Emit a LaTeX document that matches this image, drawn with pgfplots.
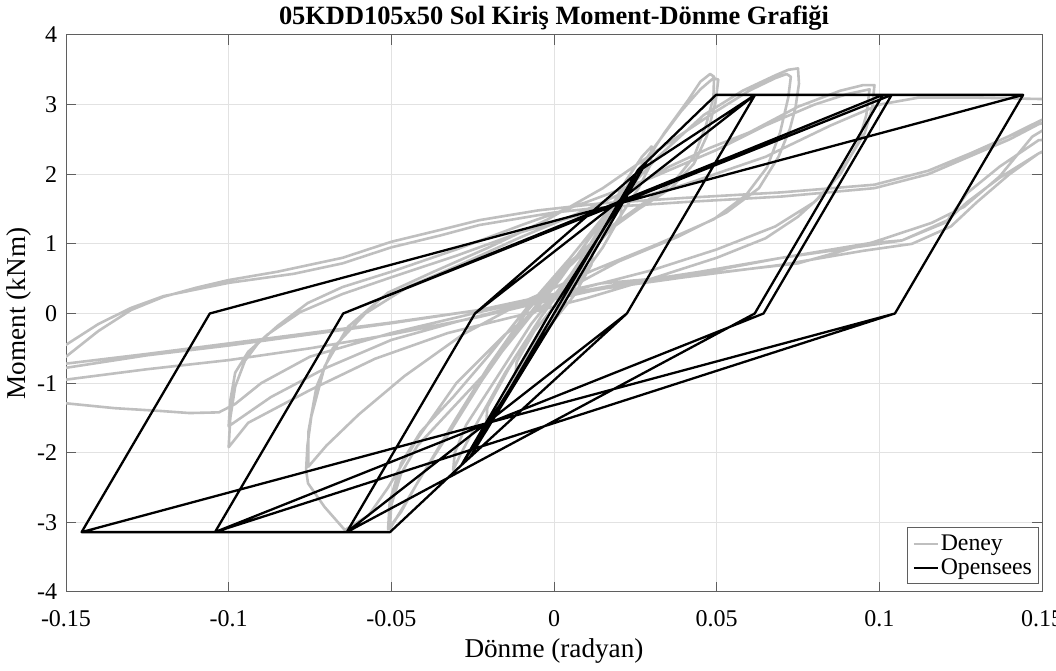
\documentclass[border=0pt]{standalone}
\usepackage{fontspec}
\setmainfont{Liberation Serif}
\usepackage{pgfplots}
\pgfplotsset{compat=1.18}
\definecolor{deney}{RGB}{191,191,191}
\definecolor{gridc}{RGB}{226,226,226}
\definecolor{axc}{RGB}{95,95,95}
\begin{document}
\begin{tikzpicture}
\begin{axis}[
  name=ax,
  scale only axis,
  width=488pt, height=278.5pt,
  xmin=-0.15, xmax=0.15, ymin=-4, ymax=4,
  xtick={-0.15,-0.1,-0.05,0,0.05,0.1,0.15},
  xticklabels={-0.15,-0.1,-0.05,0,0.05,0.1,0.15},
  ytick={-4,-3,-2,-1,0,1,2,3,4},
  yticklabels={-4,-3,-2,-1,0,1,2,3,4},
  scaled ticks=false,
  xtick pos=both, ytick pos=both,
  xticklabel pos=lower, yticklabel pos=left,
  tick align=inside,
  major tick length=4.8pt,
  every tick/.style={color=axc, line width=0.5pt},
  axis line style={color=axc, line width=0.5pt},
  grid=major,
  major grid style={color=gridc, line width=0.5pt},
  tick label style={font=\fontsize{12}{14}\selectfont},
  xticklabel style={anchor=base, yshift=-17.3pt},
  yticklabel style={anchor=east, inner sep=0pt, xshift=-4.2pt},
  title={05KDD105x50 Sol Kiriş Moment-Dönme Grafiği},
  title style={at={(axis description cs:0.5,1)}, anchor=base, yshift=-1pt, font=\fontsize{13.2}{15}\selectfont\bfseries},
  xlabel={Dönme (radyan)},
  xlabel style={at={(axis description cs:0.5,-0.1185)}, anchor=base, font=\fontsize{13.6}{15}\selectfont},
  ylabel={Moment (kNm)},
  ylabel style={at={(axis description cs:-0.0487,0.5)}, anchor=center, font=\fontsize{13.6}{15}\selectfont},
  legend style={at={(axis description cs:0.997,0.014)}, anchor=south east, draw=axc, line width=0.5pt,
    font=\fontsize{11.9}{13}\selectfont, inner sep=2.5pt, row sep=1pt, nodes={inner sep=0.8pt}},
  legend cell align=left,
  legend image code/.code={\draw[#1] (0pt,0pt) -- (12pt,0pt);},
]
\addplot[deney, line width=1.3pt, line join=round] coordinates {
(0,0) (0.006,0.45) (0.012,0.95) (0.0115,0.7) (0.006,0.25) (0,-0.1) (-0.006,-0.5) (-0.012,-0.95) (-0.0115,-0.7) (-0.006,-0.25) (0,0.1)
(0.008,0.65) (0.015,1.25) (0.021,1.75) (0.0205,1.4) (0.015,0.95) (0.005,0.3) (-0.005,-0.35) (-0.014,-1.1) (-0.021,-1.7) (-0.0205,-1.35) (-0.014,-0.8) (-0.004,-0.05) (0.006,0.6)
(0.015,1.3) (0.022,1.9) (0.027,2.25) (0.03,2.4) (0.0298,2.15) (0.026,1.8) (0.019,1.3) (0.008,0.7) (-0.004,-0.05) (-0.015,-0.85) (-0.024,-1.6) (-0.029,-2.05) (-0.031,-2.25) (-0.0305,-2.0) (-0.027,-1.6) (-0.018,-0.95) (-0.007,-0.15) (0.005,0.55)
(0.015,1.25) (0.025,1.95) (0.034,2.6) (0.041,3.05) (0.045,3.33) (0.048,3.44) (0.0492,3.4) (0.049,3.1) (0.0467,2.7) (0.043,2.25) (0.037,1.9) (0.028,1.6) (0.016,1.2) (0.004,0.7) (-0.008,0.05) (-0.02,-0.75) (-0.03,-1.5) (-0.039,-2.2) (-0.046,-2.75) (-0.0505,-3.1) (-0.05,-2.75) (-0.047,-2.3) (-0.042,-1.9) (-0.033,-1.45) (-0.022,-0.9) (-0.01,-0.2) (0.002,0.5) (0.012,1.15)
(0.022,1.8) (0.031,2.4) (0.039,2.9) (0.045,3.22) (0.049,3.38) (0.0505,3.36) (0.0497,3.05) (0.047,2.55) (0.043,2.15) (0.036,1.8) (0.026,1.5) (0.014,1.1) (0.002,0.55) (-0.01,-0.15) (-0.022,-0.95) (-0.032,-1.7) (-0.041,-2.35) (-0.047,-2.85) (-0.051,-3.1) (-0.0505,-2.7) (-0.047,-2.15) (-0.041,-1.7) (-0.031,-1.2) (-0.02,-0.6) (-0.008,0.1) (0.005,0.8)
(0.018,1.55) (0.032,2.25) (0.046,2.85) (0.058,3.2) (0.068,3.42) (0.072,3.5) (0.075,3.52) (0.0753,3.3) (0.0742,2.95) (0.0725,2.65) (0.069,2.25) (0.063,1.8) (0.053,1.45) (0.038,1.1) (0.02,0.75) (0.002,0.3) (-0.015,-0.3) (-0.03,-1.0) (-0.042,-1.8) (-0.051,-2.5) (-0.057,-2.9) (-0.0643,-3.11) (-0.0705,-2.78) (-0.0756,-2.44) (-0.0762,-2.25) (-0.0758,-1.9) (-0.0746,-1.48) (-0.0705,-0.76) (-0.0633,-0.19) (-0.051,0.3) (-0.037,0.6) (-0.02,0.95) (-0.002,1.35)
(0.015,1.8) (0.032,2.35) (0.048,2.85) (0.06,3.2) (0.068,3.38) (0.0715,3.44) (0.0728,3.4) (0.072,3.1) (0.0695,2.6) (0.0655,2.1) (0.059,1.7) (0.049,1.35) (0.032,1.0) (0.012,0.62) (-0.008,0.2) (-0.028,-0.3) (-0.046,-0.9) (-0.06,-1.45) (-0.07,-1.9) (-0.0755,-2.2) (-0.0755,-1.7) (-0.073,-1.05) (-0.068,-0.5) (-0.058,0.0) (-0.045,0.38) (-0.028,0.72) (-0.01,1.1) (0.008,1.45)
(0.022,1.75) (0.035,2.1) (0.048,2.38) (0.06,2.6) (0.075,2.97) (0.088,3.2) (0.095,3.28) (0.0985,3.28) (0.0978,2.95) (0.0955,2.59) (0.0904,2.2) (0.084,1.77) (0.075,1.39) (0.065,1.08) (0.05,0.8) (0.03,0.5) (0.01,0.22) (-0.01,-0.02) (-0.0326,-0.28) (-0.055,-0.65) (-0.075,-1.1) (-0.094,-1.57) (-0.1,-1.92) (-0.0995,-1.5) (-0.098,-1.05) (-0.095,-0.68) (-0.091,-0.43) (-0.085,-0.18) (-0.0757,0.15) (-0.065,0.38) (-0.05,0.6) (-0.03,0.92) (-0.01,1.27) (0.01,1.6)
(0.03,1.95) (0.05,2.35) (0.065,2.7) (0.08,3.0) (0.09,3.15) (0.097,3.22) (0.096,2.85) (0.0935,2.45) (0.088,2.0) (0.08,1.6) (0.068,1.25) (0.05,0.92) (0.03,0.62) (0.01,0.38) (-0.01,0.12) (-0.03,-0.12) (-0.05,-0.38) (-0.07,-0.78) (-0.087,-1.2) (-0.1,-1.62) (-0.0995,-1.25) (-0.098,-0.85) (-0.094,-0.55) (-0.088,-0.3) (-0.078,0.02) (-0.065,0.28) (-0.05,0.52) (-0.03,0.83) (-0.01,1.17) (0.014,1.5)
(0.04,1.85) (0.065,2.25) (0.085,2.7) (0.1,3.0) (0.112,3.1) (0.13,3.1) (0.15,3.08) (0.16,3.05) (0.165,2.9) (0.16,2.55) (0.149,2.3) (0.137,1.95) (0.127,1.6) (0.12,1.3) (0.107,1.05) (0.097,0.98) (0.07,0.8) (0.045,0.6) (0.02,0.42) (0,0.25) (-0.023,0.02) (-0.05,-0.28) (-0.075,-0.62) (-0.09,-1.0) (-0.098,-1.3) (-0.103,-1.42) (-0.112,-1.43) (-0.121,-1.4) (-0.135,-1.36) (-0.15,-1.29) (-0.165,-1.2)
(-0.163,-0.9) (-0.158,-0.75) (-0.15,-0.62) (-0.14,-0.25) (-0.13,0.05) (-0.12,0.24) (-0.11,0.37) (-0.1,0.48) (-0.085,0.6) (-0.065,0.8) (-0.05,1.03) (-0.035,1.2) (-0.023,1.34) (-0.005,1.48) (0.014,1.58) (0.04,1.66) (0.07,1.74) (0.0985,1.85) (0.115,2.05) (0.128,2.3) (0.14,2.55) (0.149,2.76) (0.158,2.95) (0.165,2.95)
(0.162,2.6) (0.155,2.5) (0.149,2.49) (0.137,2.11) (0.127,1.73) (0.121,1.34) (0.107,1.05) (0.097,1.01) (0.07,0.8) (0.045,0.58) (0.02,0.4) (0,0.22) (-0.023,0.05) (-0.05,-0.13) (-0.075,-0.28) (-0.1,-0.43) (-0.125,-0.58) (-0.15,-0.72) (-0.165,-0.82)
(-0.16,-0.6) (-0.15,-0.45) (-0.14,-0.15) (-0.13,0.08) (-0.12,0.25) (-0.1,0.44) (-0.08,0.57) (-0.065,0.72) (-0.05,0.95) (-0.035,1.12) (-0.023,1.27) (0,1.45) (0.014,1.52) (0.04,1.6) (0.07,1.68) (0.0985,1.8) (0.115,2.0) (0.13,2.3) (0.14,2.5) (0.149,2.72) (0.16,2.85) (0.165,2.8)
(0.16,2.5) (0.149,2.3) (0.14,2.0) (0.13,1.6) (0.122,1.25) (0.11,1.0) (0.095,0.9) (0.07,0.7) (0.04,0.52) (0.014,0.35) (-0.005,0.15) (-0.023,-0.05) (-0.05,-0.3) (-0.075,-0.5) (-0.1,-0.67) (-0.125,-0.8) (-0.15,-0.95) (-0.165,-1.05)
(-0.16,-0.95) (-0.15,-0.78) (-0.125,-0.6) (-0.1,-0.46) (-0.075,-0.3) (-0.05,-0.14) (-0.023,0.05) (0,0.28) (0.014,0.43) (0.045,0.56) (0.075,0.72) (0.0985,1.03) (0.116,1.3) (0.126,1.53) (0.137,1.97) (0.147,2.54) (0.158,2.85) (0.165,2.85)
};
\addlegendentry{Deney}
\addplot[black, line width=1.15pt, line join=round] coordinates {
(0,0) (0.0125,1.0) (-0.0125,-1.0) (0.0125,1.0) (-0.0125,-1.0) (0,0)
(0.025,2.0) (-0.025,-2.0) (0.025,2.0) (-0.025,-2.0) (0,0)
(0.0258,2.06) (0.0285,2.18) (0.0013,0) (-0.0258,-2.06) (-0.0285,-2.18) (-0.0013,0)
(0.0285,2.18) (0.0013,0) (-0.0285,-2.18) (-0.0013,0) (0.0285,2.18)
(0.0498,3.14) (0.0618,3.14) (0.0224,0) (-0.0285,-2.18) (-0.0504,-3.14) (-0.0637,-3.14)
(-0.0243,0) (0.0262,2.05) (0.0618,3.14) (0.0224,0) (-0.0637,-3.14)
(-0.0243,0) (0.0618,3.14) (0.1011,3.14) (0.0617,0) (-0.0637,-3.14) (-0.1042,-3.14)
(-0.0648,0) (0.1011,3.14) (0.1038,3.14) (0.0644,0) (-0.1042,-3.14)
(-0.0648,0) (0.1038,3.14) (0.1442,3.14) (0.1048,0) (-0.1042,-3.14) (-0.1452,-3.14)
(-0.1058,0) (0.1442,3.14) (0.1048,0) (-0.1452,-3.14) (-0.1058,0)
};
\addlegendentry{Opensees}
\end{axis}
\pgfresetboundingbox
\path ([xshift=-33pt,yshift=-39.5pt]ax.south west) rectangle ([xshift=7pt,yshift=17.5pt]ax.north east);
\end{tikzpicture}
\end{document}
